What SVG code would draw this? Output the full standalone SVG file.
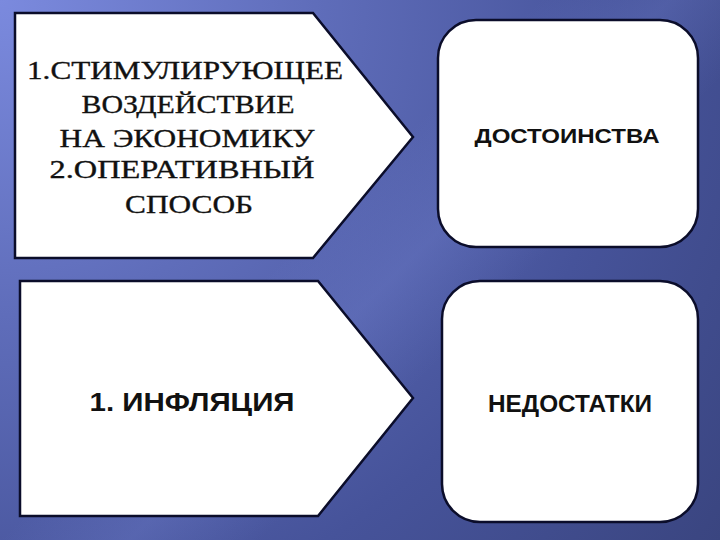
<svg xmlns="http://www.w3.org/2000/svg" width="720" height="540" viewBox="0 0 720 540">
  <defs>
    <radialGradient id="bg" cx="0" cy="0" r="900" gradientUnits="userSpaceOnUse">
      <stop offset="0" stop-color="#7b8ade"/>
      <stop offset="0.35" stop-color="#5f6dba"/>
      <stop offset="0.7" stop-color="#46539a"/>
      <stop offset="1" stop-color="#3a4580"/>
    </radialGradient>
    <linearGradient id="streak" x1="340" y1="200" x2="470" y2="330" gradientUnits="userSpaceOnUse">
      <stop offset="0" stop-color="#8090e0" stop-opacity="0"/>
      <stop offset="0.5" stop-color="#8494e4" stop-opacity="0.2"/>
      <stop offset="1" stop-color="#8090e0" stop-opacity="0"/>
    </linearGradient>
  </defs>
  <style>
    .shape { fill: #ffffff; stroke: #0b0d2a; stroke-width: 2.5; stroke-linejoin: miter; }
    .serif { font-family: "Liberation Serif", "DejaVu Serif", serif; font-size: 25px; fill: #111111; stroke: #111111; stroke-width: 0.35; text-anchor: middle; }
    .sans { font-family: "Liberation Sans", "DejaVu Sans", sans-serif; font-weight: bold; fill: #111111; text-anchor: middle; }
  </style>
  <rect x="0" y="0" width="720" height="540" fill="url(#bg)"/>
  <rect x="0" y="0" width="720" height="540" fill="url(#streak)"/>

  <g id="node-methods">
    <polygon class="shape" points="15,13 313,13 413,137 313,258 15,258"/>
    <text class="serif" x="185" y="79" textLength="316" lengthAdjust="spacingAndGlyphs">1.СТИМУЛИРУЮЩЕЕ</text>
    <text class="serif" x="188" y="113" textLength="213" lengthAdjust="spacingAndGlyphs">ВОЗДЕЙСТВИЕ</text>
    <text class="serif" x="187" y="147" textLength="255" lengthAdjust="spacingAndGlyphs">НА ЭКОНОМИКУ</text>
    <text class="serif" x="182" y="178" textLength="265" lengthAdjust="spacingAndGlyphs">2.ОПЕРАТИВНЫЙ</text>
    <text class="serif" x="189" y="213" textLength="128" lengthAdjust="spacingAndGlyphs">СПОСОБ</text>
  </g>

  <g id="node-inflation">
    <polygon class="shape" points="20,281 318,281 413,398 318,516 20,516"/>
    <text class="sans" x="192" y="411" font-size="26" textLength="205" lengthAdjust="spacingAndGlyphs">1. ИНФЛЯЦИЯ</text>
  </g>

  <g id="node-advantages">
    <rect class="shape" x="438" y="20" width="260" height="227" rx="38" ry="38"/>
    <text class="sans" x="567" y="143" font-size="21" textLength="185" lengthAdjust="spacingAndGlyphs">ДОСТОИНСТВА</text>
  </g>

  <g id="node-disadvantages">
    <rect class="shape" x="442" y="281" width="256" height="241" rx="38" ry="38"/>
    <text class="sans" x="570" y="412" font-size="23" textLength="164" lengthAdjust="spacingAndGlyphs">НЕДОСТАТКИ</text>
  </g>

  <g id="connectors"></g>
</svg>
